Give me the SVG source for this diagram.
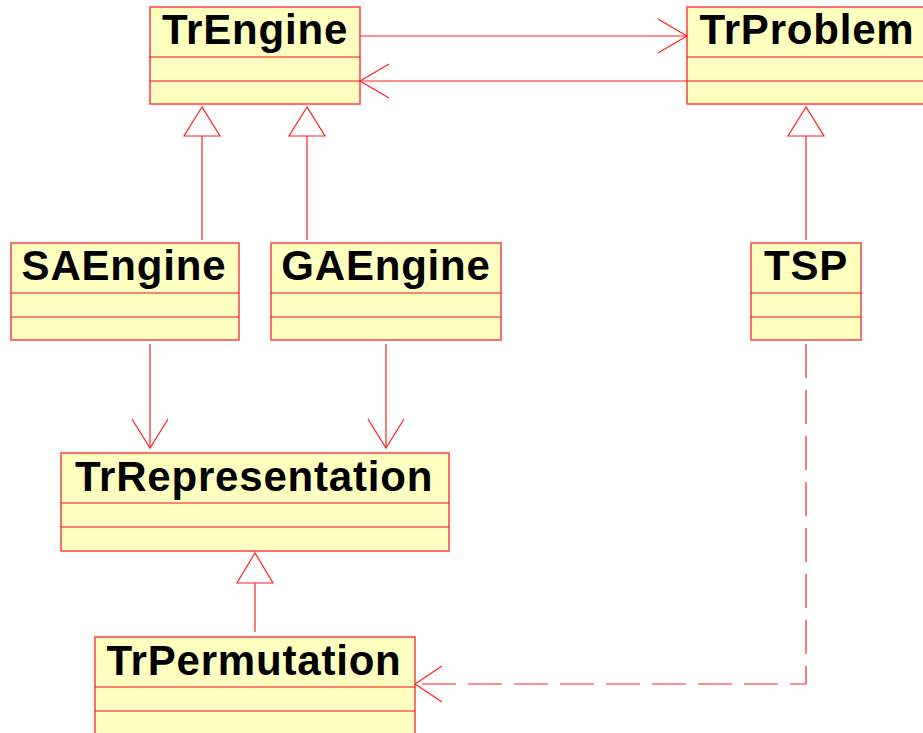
<svg xmlns="http://www.w3.org/2000/svg" width="923" height="733" viewBox="0 0 923 733">
  <style>
    .box { fill: #ffffc0; stroke: #ff4a4a; stroke-width: 1.6; }
    .sep { stroke: #f01010; stroke-width: 1.2; }
    .name { font-family: "Liberation Sans", Arial, sans-serif; font-weight: bold; font-size: 42px; letter-spacing: 0.8px; fill: #000; text-anchor: middle; }
    .edge { fill: none; stroke: #ff2020; stroke-width: 1.2; }
    .dash { stroke-dasharray: 34 12; }
    .tri { fill: #fff; stroke: #ff2020; stroke-width: 1.2; }
  </style>

  <rect width="923" height="733" fill="#fff"/>

  <!-- classes -->
  <g id="TrEngine">
    <rect class="box" x="150" y="7" width="210" height="97"/>
    <line class="sep" x1="150" y1="57" x2="360" y2="57"/>
    <line class="sep" x1="150" y1="81" x2="360" y2="81"/>
    <text class="name" x="255" y="44">TrEngine</text>
  </g>

  <g id="TrProblem">
    <rect class="box" x="687" y="7" width="240" height="97"/>
    <line class="sep" x1="687" y1="57" x2="927" y2="57"/>
    <line class="sep" x1="687" y1="81" x2="927" y2="81"/>
    <text class="name" x="807" y="44">TrProblem</text>
  </g>

  <g id="SAEngine">
    <rect class="box" x="11" y="243" width="228" height="97"/>
    <line class="sep" x1="11" y1="293" x2="239" y2="293"/>
    <line class="sep" x1="11" y1="317" x2="239" y2="317"/>
    <text class="name" x="124" y="280">SAEngine</text>
  </g>

  <g id="GAEngine">
    <rect class="box" x="271" y="243" width="230" height="97"/>
    <line class="sep" x1="271" y1="293" x2="501" y2="293"/>
    <line class="sep" x1="271" y1="317" x2="501" y2="317"/>
    <text class="name" x="386" y="280">GAEngine</text>
  </g>

  <g id="TSP">
    <rect class="box" x="751" y="243" width="110" height="97"/>
    <line class="sep" x1="751" y1="293" x2="861" y2="293"/>
    <line class="sep" x1="751" y1="317" x2="861" y2="317"/>
    <text class="name" x="806" y="280">TSP</text>
  </g>

  <g id="TrRepresentation">
    <rect class="box" x="61" y="453" width="388" height="98"/>
    <line class="sep" x1="61" y1="503" x2="449" y2="503"/>
    <line class="sep" x1="61" y1="527" x2="449" y2="527"/>
    <text class="name" x="254" y="491">TrRepresentation</text>
  </g>

  <g id="TrPermutation">
    <rect class="box" x="95" y="637" width="320" height="110"/>
    <line class="sep" x1="95" y1="687" x2="415" y2="687"/>
    <line class="sep" x1="95" y1="711" x2="415" y2="711"/>
    <text class="name" x="254" y="675">TrPermutation</text>
  </g>

  <!-- connectors -->
  <g id="connectors">
    <!-- associations between engine and problem -->
    <line class="edge" x1="360" y1="36" x2="687" y2="36"/>
    <polyline class="edge" points="658,19 687,36 658,53"/>
    <line class="edge" x1="687" y1="81" x2="360" y2="81"/>
    <polyline class="edge" points="389,64 360,81 389,98"/>

    <!-- generalizations -->
    <line class="edge" x1="202" y1="136" x2="202" y2="240"/>
    <polygon class="tri" points="202,107 184,136 220,136"/>
    <line class="edge" x1="307" y1="136" x2="307" y2="240"/>
    <polygon class="tri" points="307,107 289,136 325,136"/>
    <line class="edge" x1="806" y1="136" x2="806" y2="240"/>
    <polygon class="tri" points="806,107 788,136 824,136"/>
    <line class="edge" x1="255" y1="583" x2="255" y2="632"/>
    <polygon class="tri" points="255,553 237,583 273,583"/>

    <!-- engines use the representation -->
    <line class="edge" x1="150" y1="344" x2="150" y2="448"/>
    <polyline class="edge" points="132,419 150,448 168,419"/>
    <line class="edge" x1="386" y1="344" x2="386" y2="448"/>
    <polyline class="edge" points="368,419 386,448 404,419"/>

    <!-- dependency from TSP to permutation -->
    <polyline class="edge dash" points="806,344 806,684 415,684"/>
    <polyline class="edge" points="442,666 415,684 442,702"/>
  </g>
</svg>
